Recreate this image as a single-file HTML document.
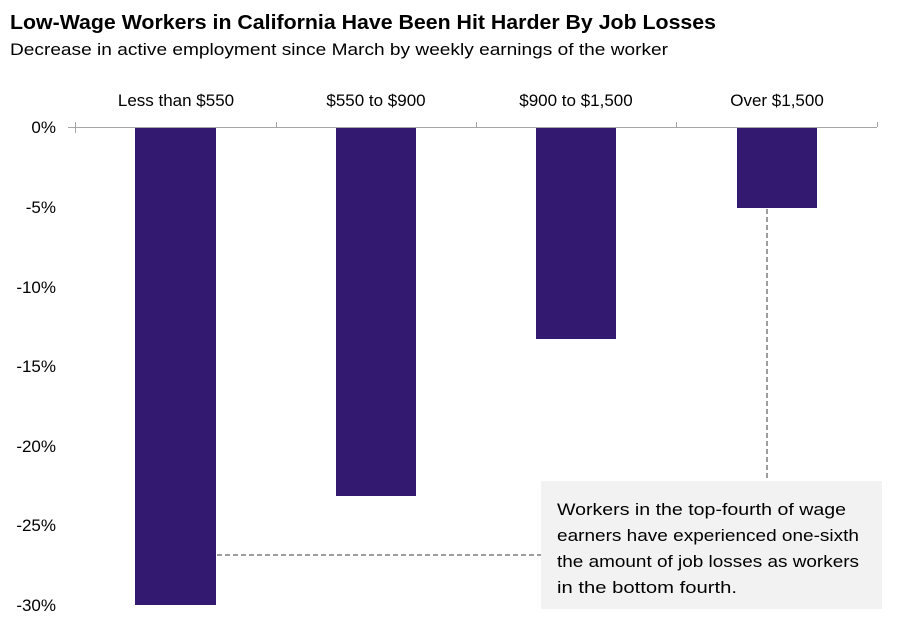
<!DOCTYPE html>
<html><head><style>body{margin:0;background:#fff}svg{display:block}</style></head>
<body>
<svg width="900" height="630" xmlns="http://www.w3.org/2000/svg" font-family="Liberation Sans, sans-serif">
<text x="10" y="29" font-size="20" font-weight="bold" fill="#000" textLength="706" lengthAdjust="spacingAndGlyphs">Low-Wage Workers in California  Have Been Hit Harder By Job Losses</text>
<text x="10" y="55" font-size="17" fill="#000" textLength="658" lengthAdjust="spacingAndGlyphs">Decrease in active employment since March by weekly earnings of the worker</text>
<g font-size="17" fill="#000" text-anchor="middle">
<text x="176" y="106">Less than $550</text>
<text x="376" y="106">$550 to $900</text>
<text x="576" y="106">$900 to $1,500</text>
<text x="777" y="106">Over $1,500</text>
</g>
<g font-size="17" fill="#000" text-anchor="end">
<text x="56" y="133">0%</text>
<text x="56" y="213">-5%</text>
<text x="56" y="293">-10%</text>
<text x="56" y="372">-15%</text>
<text x="56" y="452">-20%</text>
<text x="56" y="531">-25%</text>
<text x="56" y="611">-30%</text>
</g>
<g fill="#33196f">
<rect x="135" y="127" width="81" height="478"/>
<rect x="336" y="127" width="80" height="369"/>
<rect x="536" y="127" width="80" height="212"/>
<rect x="737" y="127" width="80" height="81"/>
</g>
<g stroke="#a6a6a6" stroke-width="1">
<line x1="68" y1="127.5" x2="877" y2="127.5"/>
<line x1="75.5" y1="122" x2="75.5" y2="133"/>
<line x1="276.5" y1="122" x2="276.5" y2="127"/>
<line x1="476.5" y1="122" x2="476.5" y2="127"/>
<line x1="676.5" y1="122" x2="676.5" y2="127"/>
<line x1="877.5" y1="122" x2="877.5" y2="127"/>
</g>
<g stroke="#7f7f7f" stroke-width="1.5" stroke-dasharray="5,3">
<line x1="217" y1="555" x2="541" y2="555"/>
<line x1="767" y1="209" x2="767" y2="481"/>
</g>
<rect x="541" y="481" width="341" height="128" fill="#f2f2f2"/>
<g font-size="17" fill="#000">
<text x="557" y="515" textLength="289" lengthAdjust="spacingAndGlyphs">Workers in the top-fourth of wage</text>
<text x="557" y="541" textLength="302" lengthAdjust="spacingAndGlyphs">earners have experienced one-sixth</text>
<text x="557" y="567" textLength="302" lengthAdjust="spacingAndGlyphs">the amount of job losses as workers</text>
<text x="557" y="593" textLength="180" lengthAdjust="spacingAndGlyphs">in the bottom fourth.</text>
</g>
</svg>
</body></html>
